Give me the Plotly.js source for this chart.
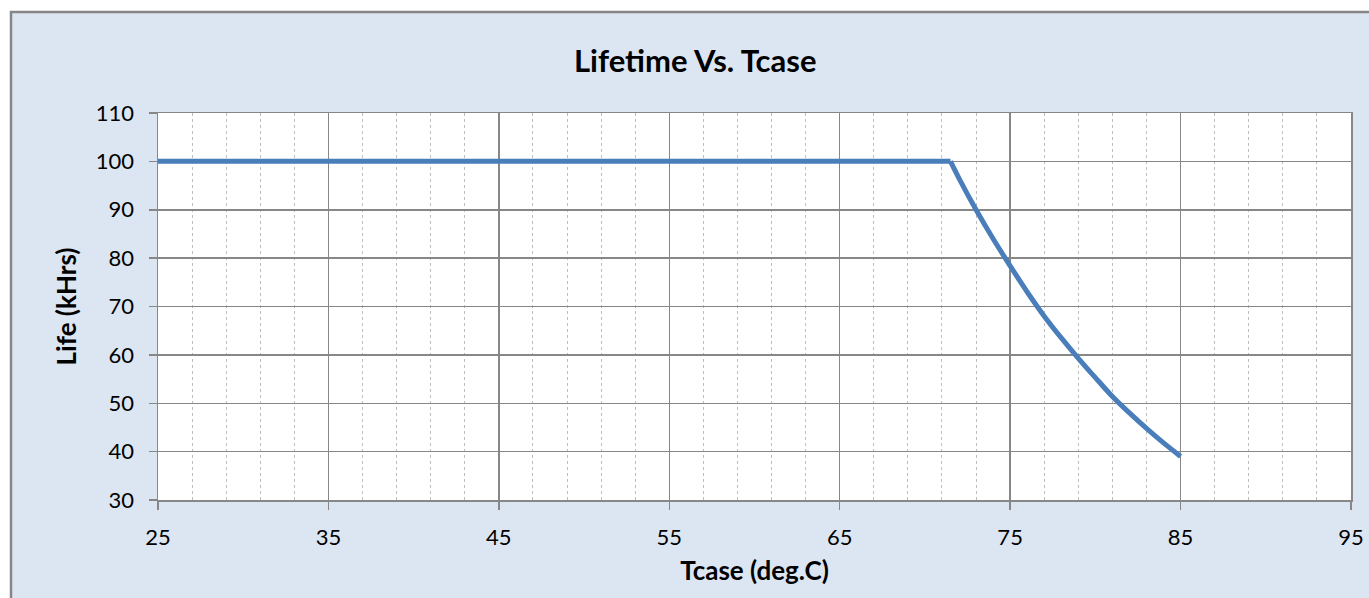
<!DOCTYPE html>
<html>
<head>
<meta charset="utf-8">
<script src="https://cdn.plot.ly/plotly-3.0.1.min.js"></script>
<style>html,body{margin:0;padding:0;background:#fff;}</style>
</head>
<body>
<div id="chart" style="width:1369px;height:598px;"></div>
<script>
// Data
const flatT    = [25, 71.5];
const flatLife = [100, 100];
const tcase = [71.5, 72, 73, 74, 75, 76, 77, 78, 79, 80, 81, 82, 83, 84, 85];
const life  = [100, 96.5, 90, 84, 78.4, 73, 68, 63.5, 59.3, 55.3, 51.4, 48, 44.8, 41.8, 39];
const xTicks = [25, 35, 45, 55, 65, 75, 85, 95];
const yTicks = [30, 40, 50, 60, 70, 80, 90, 100, 110];

const FONT = 'Lato, "Open Sans", sans-serif';
const GRID = '#878787';
const LINE = '#4A7EBB';

const traces = [
  {x: flatT, y: flatLife, type: 'scatter', mode: 'lines',
   line: {color: LINE, width: 5}, hoverinfo: 'skip', showlegend: false},
  {x: tcase, y: life, type: 'scatter', mode: 'lines',
   line: {color: LINE, width: 5, shape: 'spline', smoothing: 0.8}, hoverinfo: 'skip', showlegend: false}
];

const layout = {
  width: 1369, height: 598,
  margin: {l: 158, r: 18, t: 113, b: 98, pad: 0},
  paper_bgcolor: '#ffffff',
  plot_bgcolor: 'rgba(0,0,0,0)',
  font: {family: FONT, color: '#000', size: 22},
  showlegend: false,
  xaxis: {
    range: [25, 95], tickmode: 'array', tickvals: xTicks, ticktext: xTicks.map(String),
    showgrid: true, gridcolor: GRID, gridwidth: 1.5,
    zeroline: false, showline: true, linecolor: GRID, linewidth: 1.5, mirror: true,
    ticks: 'outside', ticklen: 8, tickcolor: GRID, tickwidth: 1.5,
    ticklabelstandoff: 9,
    tickfont: {family: FONT, size: 22, color: '#000'},
    minor: {tick0: 25, dtick: 2, showgrid: true, gridcolor: '#BDBDBD', griddash: 'dot', gridwidth: 1, ticks: ''},
    title: {text: 'Tcase (deg.C)', font: {family: FONT, size: 26, weight: 'bold', color: '#000'}, standoff: 13},
    fixedrange: true
  },
  yaxis: {
    range: [30, 110], tickmode: 'array', tickvals: yTicks, ticktext: yTicks.map(String),
    showgrid: true, gridcolor: GRID, gridwidth: 1.5,
    zeroline: false, showline: true, linecolor: GRID, linewidth: 1.5, mirror: true,
    ticks: 'outside', ticklen: 8, tickcolor: GRID, tickwidth: 1.5,
    ticklabelstandoff: 10,
    tickfont: {family: FONT, size: 22, color: '#000'},
    title: {text: 'Life (kHrs)', font: {family: FONT, size: 26, weight: 'bold', color: '#000'}, standoff: 11},
    fixedrange: true
  },
  shapes: [
    {type: 'rect', xref: 'paper', yref: 'paper', layer: 'below',
     x0: (11 - 158) / 1193, x1: 1.05, y0: -0.3, y1: (500 - 12) / 387,
     fillcolor: '#DCE6F2', line: {color: '#868686', width: 2.5}},
    {type: 'rect', xref: 'paper', yref: 'paper', layer: 'below',
     x0: 0, x1: 1, y0: 0, y1: 1,
     fillcolor: '#ffffff', line: {width: 0}}
  ],
  annotations: [
    {text: '<b>Lifetime Vs. Tcase</b>', xref: 'paper', yref: 'paper',
     x: (695 - 158) / 1193, y: (500 - 60) / 387, xanchor: 'center', yanchor: 'middle',
     showarrow: false, font: {family: FONT, size: 31, color: '#000'}}
  ]
};

Plotly.newPlot('chart', traces, layout, {displayModeBar: false, staticPlot: true});
</script>
</body>
</html>
